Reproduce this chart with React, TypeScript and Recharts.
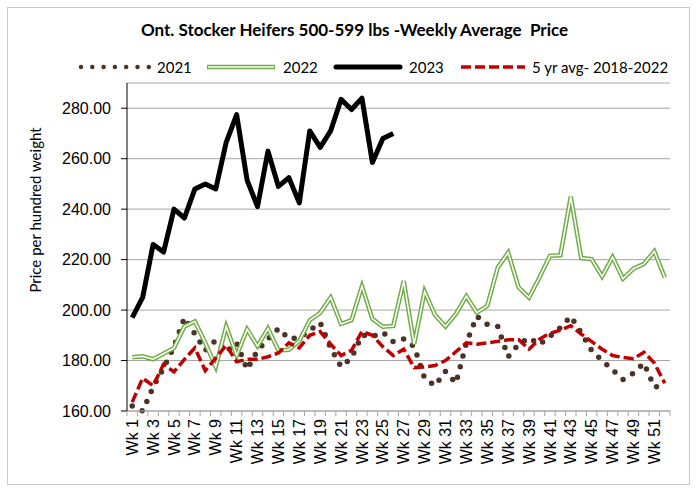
import React from 'react';
import { CartesianGrid, ComposedChart, Line, XAxis, YAxis } from 'recharts';

// week numbers on the category axis
const weeks = Array.from({ length: 52 }, (_, i) => i + 1);
const labelWeeks = [1, 3, 5, 7, 9, 11, 13, 15, 17, 19, 21, 23, 25, 27, 29, 31, 33, 35, 37, 39, 41, 43, 45, 47, 49, 51];
const yTicks = [160, 180, 200, 220, 240, 260, 280];

const price2021 = [
    162, 160, 169.5, 177, 185.5, 197, 190.5, 184, 188, 183.5, 187, 176.5, 184,
    188.5, 192.7, 188.6, 189, 192, 195, 185, 177.5, 181, 190, 189.5, 191.2, 187.5,
    188.6, 185.5, 173, 170, 175.7, 171, 187, 197.5, 194.3, 193.5, 181.5, 186.5, 189,
    186.3, 189.6, 193, 197.5, 191, 184, 180, 176.3, 172.5, 175, 179, 169.5, 170,
];
const price2022 = [
    181.3, 181.7, 180.5, 182.7, 185, 193.5, 195.5, 187, 177.5, 193.5, 182, 192.4, 185.7,
    192.7, 184, 184.3, 187.7, 196, 198.9, 205, 194.5, 196, 209.4, 196.5, 193.4, 193.7,
    211.5, 186.5, 207.4, 198, 193.5, 198.5, 205.5, 199, 201.7, 216.8, 222.8, 209, 205,
    212.9, 221.5, 221.7, 245, 220.6, 220.2, 213.3, 221, 212.4, 216.4, 218.3, 223.3, 212.9,
];
const price2023 = [
    197, 205, 226, 223, 240, 236.5, 248, 250, 248, 266.5, 277.5, 251.5, 241,
    263, 249, 252.5, 242.5, 271, 264.5, 271, 283.5, 279.5, 284, 258.5, 268, 270,
];
const avg5yr = [
    163.5, 173, 170, 178.5, 175.5, 180.5, 185, 176, 181, 186, 179.5, 180.5, 180.5,
    181.5, 183, 187, 185, 190, 191.5, 186.5, 182, 184, 191.5, 190, 185.5, 182,
    184.5, 177.2, 177.5, 178, 180, 183.5, 187, 186.5, 187, 187.6, 188.2, 188.3, 184.5,
    188.5, 190.8, 192, 193.8, 190.5, 187.5, 184.5, 182, 181.2, 180.7, 183.3, 179, 171,
];

const data = weeks.map((wk, i) => ({
    wk,
    y2021: price2021[i],
    y2022: price2022[i],
    y2023: i < price2023.length ? price2023[i] : null,
    avg: avg5yr[i],
}));

// tick marks sit between weeks, labels on every other week
const xTicks = [...weeks.flatMap(w => [w - 0.5, w]), 52.5];

const GREEN = '#70ad47';
const RED = '#c00000';
const BROWN = '#4a3426';

function WeekTick(props: any) {
    const { x, y, payload } = props;
    const v = payload.value;
    if (!Number.isInteger(v)) {
        return <line x1={x} x2={x} y1={y} y2={y + 5} stroke="#a6a6a6" strokeWidth={1} />;
    }
    if (!labelWeeks.includes(v)) return <g />;
    return (
        <text
            x={x}
            y={y + 8}
            transform={`rotate(-90, ${x}, ${y + 8})`}
            textAnchor="end"
            dy="0.35em"
            fontSize={16}
            fontFamily="Liberation Sans, Arial, sans-serif"
            fill="#000"
        >
            {`Wk ${v}`}
        </text>
    );
}

function LegendItem({ left, width, label, children }: { left: number; width: number; label: string; children: React.ReactNode }) {
    return (
        <div style={{ position: 'absolute', left, top: 58, display: 'flex', alignItems: 'center', height: 18 }}>
            <svg width={width} height={18}>{children}</svg>
            <span style={{ marginLeft: 6, fontFamily: 'Lato, sans-serif', fontSize: 15, color: '#000' }}>{label}</span>
        </div>
    );
}

export default function App() {
    return (
        <div style={{ position: 'absolute', left: 0, top: 0, width: 697, height: 489, background: '#fff' }}>
            <div style={{ position: 'absolute', left: 7, top: 7, width: 683, height: 478, border: '1px solid #c8c8c8', boxSizing: 'border-box' }} />
            <div style={{ position: 'absolute', left: 0, width: 697, top: 19, textAlign: 'center', fontFamily: 'Lato, sans-serif', fontWeight: 700, fontSize: 17, color: '#000' }}>
                <span style={{ position: 'relative', left: 6 }}>Ont. Stocker Heifers 500-599 lbs -Weekly Average&nbsp; Price</span>
            </div>

            <LegendItem left={77} width={74} label="2021">
                <line x1={4} x2={72} y1={9} y2={9} stroke={BROWN} strokeWidth={4.5} strokeLinecap="round" strokeDasharray="0 11.3" />
            </LegendItem>
            <LegendItem left={205} width={72} label="2022">
                <line x1={2} x2={70} y1={9} y2={9} stroke={GREEN} strokeWidth={4.5} />
                <line x1={3} x2={69} y1={9} y2={9} stroke="#fff" strokeWidth={1.5} />
            </LegendItem>
            <LegendItem left={333} width={70} label="2023">
                <line x1={3} x2={67} y1={9} y2={9} stroke="#000" strokeWidth={5} strokeLinecap="round" />
            </LegendItem>
            <LegendItem left={460} width={66} label="5 yr avg- 2018-2022">
                <line x1={1} x2={65} y1={9} y2={9} stroke={RED} strokeWidth={3.5} strokeDasharray="10 4" />
            </LegendItem>

            <div style={{ position: 'absolute', left: 35, top: 210, transform: 'translate(-50%, -50%) rotate(-90deg)', whiteSpace: 'nowrap', fontFamily: 'Lato, sans-serif', fontSize: 15, color: '#000' }}>
                Price per hundred weight
            </div>

            <div style={{ position: 'absolute', left: 0, top: 0 }}>
                <ComposedChart width={697} height={489} data={data} margin={{ top: 83, right: 27, bottom: 0, left: 67 }}>
                    <CartesianGrid vertical={false} stroke="#a6a6a6" strokeWidth={1} />
                    <XAxis
                        dataKey="wk"
                        type="number"
                        domain={[0.5, 52.5]}
                        ticks={xTicks}
                        interval={0}
                        height={78}
                        tickSize={0}
                        tickMargin={0}
                        tickLine={false}
                        axisLine={{ stroke: '#a6a6a6' }}
                        tick={<WeekTick />}
                    />
                    <YAxis
                        domain={[160, 290]}
                        ticks={yTicks}
                        width={60}
                        tickSize={6}
                        tickMargin={10}
                        tickFormatter={(v) => v.toFixed(2)}
                        axisLine={{ stroke: '#000' }}
                        tickLine={{ stroke: '#000' }}
                        tick={{ fontSize: 16, fontFamily: 'Liberation Sans, Arial, sans-serif', fill: '#000' }}
                    />
                    <Line dataKey="y2021" stroke={BROWN} strokeWidth={5.5} strokeLinecap="round" strokeDasharray="0 11" dot={false} isAnimationActive={false} />
                    <Line dataKey="y2022" stroke={GREEN} strokeWidth={4.5} dot={false} isAnimationActive={false} />
                    <Line dataKey="y2022" stroke="#fff" strokeWidth={1.5} dot={false} isAnimationActive={false} />
                    <Line dataKey="y2023" stroke="#000" strokeWidth={5} strokeLinejoin="round" dot={false} isAnimationActive={false} />
                    <Line dataKey="avg" stroke={RED} strokeWidth={3.5} strokeDasharray="10 4" dot={false} isAnimationActive={false} />
                </ComposedChart>
            </div>
        </div>
    );
}
